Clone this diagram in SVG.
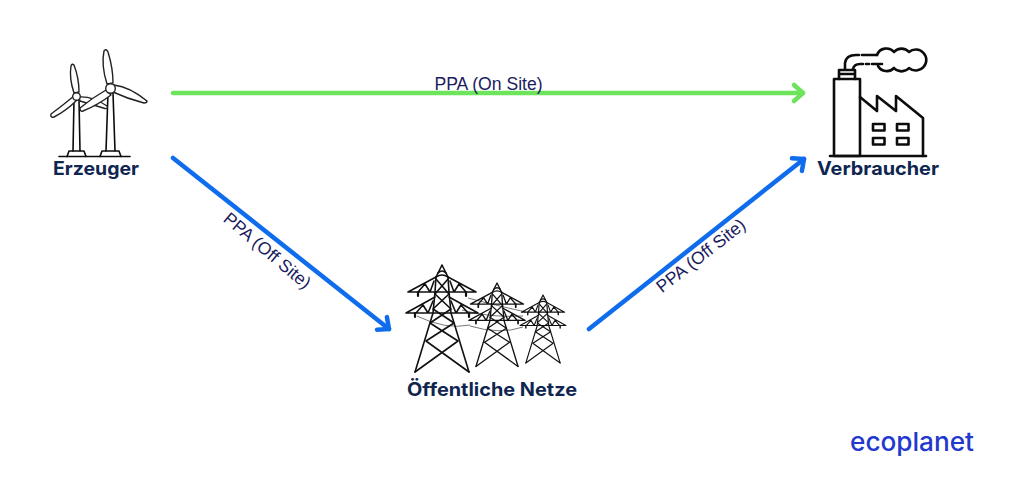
<svg xmlns="http://www.w3.org/2000/svg" width="1024" height="487" viewBox="0 0 1024 487">
<style>
.lbl{font-family:"Inter","Liberation Sans",sans-serif;font-weight:700;font-size:18.500px;fill:#0f2650;text-anchor:middle}
.ppa{font-family:"Liberation Sans",Arial,sans-serif;font-size:17.600px;fill:#1b1b5e;text-anchor:middle}
.ink{fill:none;stroke:#0c0c0c;stroke-linejoin:round;stroke-linecap:round}
.blade{fill:#fff;stroke:#222;stroke-width:1.400;stroke-linejoin:round}
.tw{fill:none;stroke:#111;stroke-linejoin:round;stroke-linecap:round}
.wire{fill:none;stroke:#777;stroke-width:1}
.conn{fill:none;stroke-width:4.500;stroke-linecap:round}
</style>
<defs>
<marker id="ag" markerUnits="userSpaceOnUse" markerWidth="24" markerHeight="24" refX="13" refY="12" orient="auto"><path d="M4 4 L13 12 L4 20" fill="none" stroke="#6ee35c" stroke-width="4.500" stroke-linecap="round" stroke-linejoin="round"/></marker>
<marker id="ab" markerUnits="userSpaceOnUse" markerWidth="24" markerHeight="24" refX="13" refY="12" orient="auto"><path d="M4 4 L13 12 L4 20" fill="none" stroke="#0f6cec" stroke-width="4.500" stroke-linecap="round" stroke-linejoin="round"/></marker>
<g id="tower">
<path d="M0 0 L-6 12 L-7 27 L-9 48 L-27 107 M0 0 L6 12 L7 27 L9 48 L27 107"/>
<path d="M-4 8 Q0 4 4 8 M-6 12 Q0 8 6 12"/>
<path d="M-27 107 L16 76 M27 107 L-16 76 M-16 76 L12 58 M16 76 L-12 58 M-12 58 L9 44 M12 58 L-9 44 M-9 44 L7 29 M9 44 L-7 29 M-7 29 L6 14 M7 29 L-6 14"/>
<path d="M-34 27 L34 27 M-34 27 L-6 12 M34 27 L6 12 M-24 27 L-17 19 L-12 27 L-8 16 M24 27 L17 19 L12 27 L8 16"/>
<path d="M-36 48 L36 48 M-36 48 L-7 32 M36 48 L7 32 M-26 48 L-19 40 L-14 48 L-9 36 M26 48 L19 40 L14 48 L9 36"/>
<path d="M-24 27 V31 M24 27 V31 M-27 48 V52 M27 48 V52" stroke-width="2.200"/>
</g>
</defs>
<rect width="1024" height="487" fill="#fff"/>
<g id="connectors">
<path class="conn" stroke="#6ee35c" d="M173 93 H803" marker-end="url(#ag)"/>
<path class="conn" stroke="#0f6cec" d="M173 158 L389 329" marker-end="url(#ab)"/>
<path class="conn" stroke="#0f6cec" d="M589 329 L804 159" marker-end="url(#ab)"/>
<text class="ppa" x="488.500" y="89.500">PPA (On Site)</text>
<text class="ppa" transform="translate(267 251) rotate(40)" y="5.500">PPA (Off Site)</text>
<text class="ppa" transform="translate(701 256) rotate(-38)" y="5.500">PPA (Off Site)</text>
</g>
<g id="erzeuger">
<path class="ink" stroke-width="1.600" d="M59 156.500 H130"/>
<path class="ink" stroke-width="1.600" d="M74 100 L73 151 M79 100 L80 151 M108 93 L106 151 M113 93 L115 151"/>
<path class="ink" stroke-width="1.600" d="M67 156.500 L69 151 H84 L86 156.500 M100 156.500 L102 151 H119 L121 156.500"/>
<path class="blade" d="M79 97 Q92 96 107 106 Q108 109 105 108.500 L80 101 Z"/>
<path class="blade" d="M74 93 Q69 78 71 66 Q72 63 74 65 Q79 78 79 92 Z"/>
<path class="blade" d="M74 96 Q62 106 51 114 Q50 118 54 117 Q66 111 77 100 Z"/>
<path class="blade" d="M107 84 Q101 65 104 51 Q106 48 108 52 Q113 68 113 83 Z"/>
<path class="blade" d="M114 85 Q130 87 147 101 Q147 103 144 103 Q128 99 113 92 Z"/>
<path class="blade" d="M106 90 Q92 98 80 108 Q80 112 83 111 Q98 105 111 95 Z"/>
<circle class="blade" cx="76.500" cy="96.500" r="3.800"/>
<circle class="blade" cx="110.500" cy="88.500" r="4.800"/>
<text class="lbl" x="96" y="174.500" textLength="86" lengthAdjust="spacingAndGlyphs">Erzeuger</text>
</g>
<g id="verbraucher">
<g class="ink" stroke-width="2.600">
<path d="M830 156 H926"/>
<rect x="834" y="79" width="26" height="77"/>
<path d="M839 79 V70 H855 V79 M839 74 H855"/>
<path d="M845 69 V63 Q846 55 856 55 H859 M862 55 H877"/>
<path d="M853 69 Q854 64 860 64 H863 M866 64 H869 M872 64 H882"/>
<path d="M860 97 L877 111 V96 L896 111 V96 L923 118 V156"/>
<path d="M877 55 A10 10 0 0 1 894 52 A10 10 0 0 1 909 52 A10.500 10.500 0 1 1 909 68 A10 10 0 0 1 894 68 A10 10 0 0 1 878 66"/>
<rect x="873" y="124" width="11.500" height="6.500"/>
<rect x="897" y="124" width="11.500" height="6.500"/>
<rect x="873" y="138" width="11.500" height="6.500"/>
<rect x="897" y="138" width="11.500" height="6.500"/>
</g>
<text class="lbl" x="878" y="174.500" textLength="122" lengthAdjust="spacingAndGlyphs">Verbraucher</text>
</g>
<g id="netze">
<path class="wire" d="M417 316 Q445 330 470 325 M468 298 Q490 304 526 312 M470 326 Q500 335 523 327 M462 310 Q490 318 523 316"/>
<use href="#tower" class="tw" stroke-width="1.600" transform="translate(442 265)"/>
<use href="#tower" class="tw" stroke-width="1.700" transform="translate(497 283) scale(.78)"/>
<use href="#tower" class="tw" stroke-width="1.800" transform="translate(543 295) scale(.635)"/>
<text class="lbl" x="492" y="395.500" textLength="170" lengthAdjust="spacingAndGlyphs">Öffentliche Netze</text>
</g>
<text id="logo" x="912" y="451" text-anchor="middle" font-family="Inter,'Liberation Sans',sans-serif" font-size="26" font-weight="500" fill="#2238cf" textLength="124" lengthAdjust="spacingAndGlyphs">ecoplanet</text>
</svg>
